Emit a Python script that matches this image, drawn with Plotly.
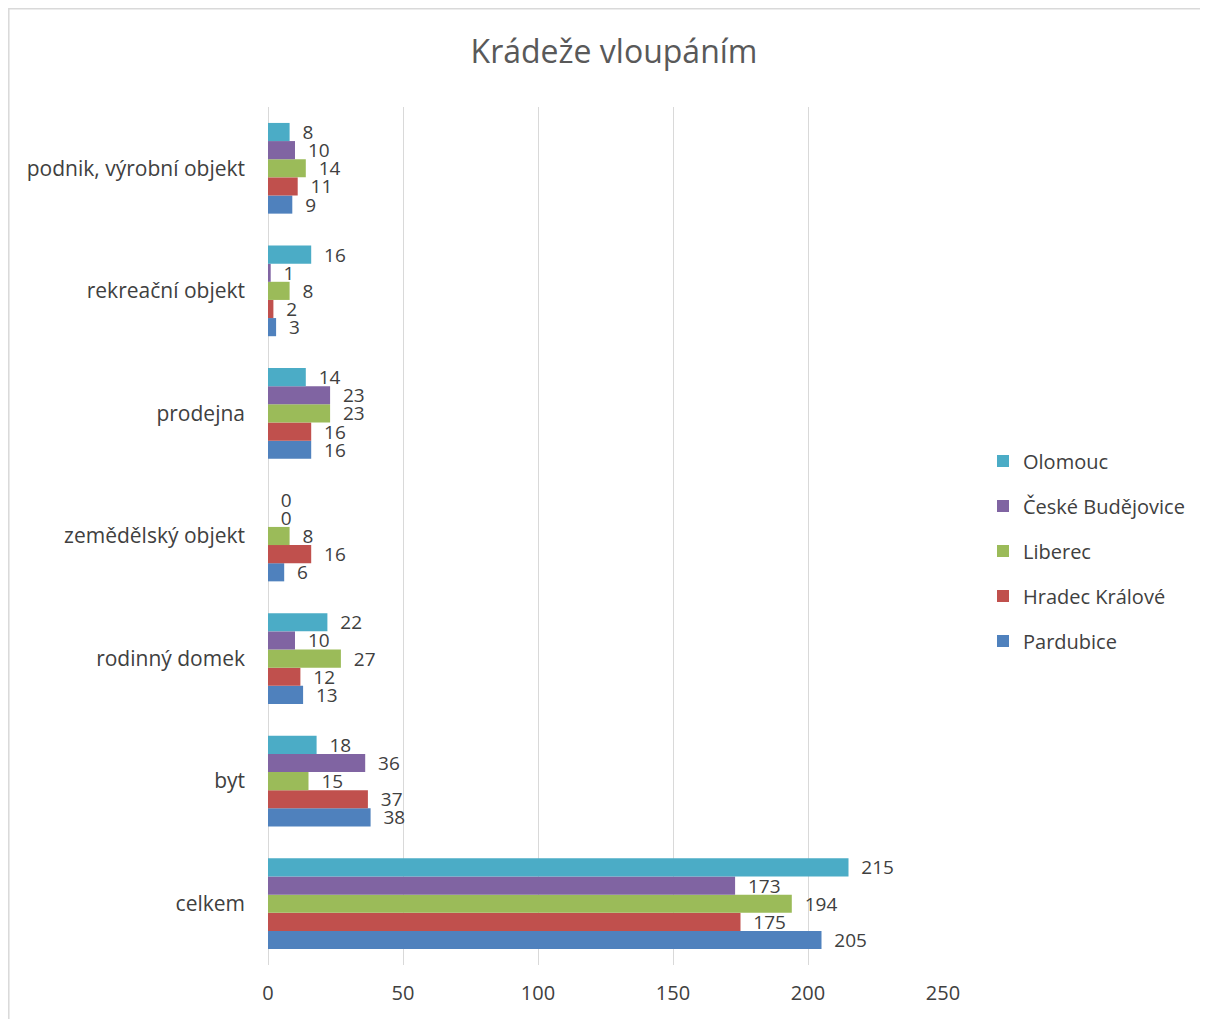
import plotly.graph_objects as go

categories = ["celkem", "byt", "rodinný domek", "zemědělský objekt", "prodejna",
              "rekreační objekt", "podnik, výrobní objekt"]
series_names = ["Pardubice", "Hradec Králové", "Liberec", "České Budějovice", "Olomouc"]
pardubice = [205, 38, 13, 6, 16, 3, 9]
hradec = [175, 37, 12, 16, 16, 2, 11]
liberec = [194, 15, 27, 8, 23, 8, 14]
budejovice = [173, 36, 10, 0, 23, 1, 10]
olomouc = [215, 18, 22, 0, 14, 16, 8]
x_ticks = [0, 50, 100, 150, 200, 250]

values = [pardubice, hradec, liberec, budejovice, olomouc]
colors = ["#4f81bd", "#c0504d", "#9bbb59", "#8064a2", "#4bacc6"]

FONT = "Open Sans"
TXT = "#404040"

# page body has an 8px margin; work in figure coordinates = reference pixels - 8
O = 8
W, H = 1208 - O, 1019 - O
L = 268 - O
R = W - (943 - O)
T = 107 - O
B = H - (965 - O)
pw, ph = W - L - R, H - T - B

def px(xp):
    return (xp - O - L) / pw

def py(yp):
    return (H - B - (yp - O)) / ph

fig = go.Figure()
n = len(series_names)
for i, (name, vals, col) in enumerate(zip(series_names, values, colors)):
    fig.add_trace(go.Bar(
        y=categories, x=vals, name=name, orientation="h",
        marker=dict(color=col, line=dict(width=0)),
        text=["\u00a0\u00a0" + str(v) for v in vals], textposition="outside",
        constraintext="none",
        textfont=dict(family=FONT, size=19, color=TXT),
        cliponaxis=False, legendgroup=name, legendrank=n - i,
    ))

fig.update_layout(
    width=W, height=H,
    margin=dict(l=L, r=R, t=T, b=B, autoexpand=False),
    paper_bgcolor="white", plot_bgcolor="white",
    barmode="group", bargap=0.26, bargroupgap=0,
    uniformtext=dict(mode=False),
    title=dict(text="Krádeže vloupáním", x=(614 - O) / W, xref="container", xanchor="center",
               y=1 - (52 - O) / H, yref="container", yanchor="middle",
               font=dict(family=FONT, size=32, color="#595959")),
    font=dict(family=FONT, color=TXT),
    showlegend=True,
    legend=dict(x=px(983), xanchor="left", y=py(551), yanchor="middle",
                traceorder="grouped", tracegroupgap=16,
                font=dict(family=FONT, size=20, color=TXT),
                itemwidth=30, bgcolor="rgba(0,0,0,0)"),
    xaxis=dict(range=[0, 250], tickvals=x_ticks, showgrid=True, gridcolor="#d9d9d9",
               gridwidth=1.3, zeroline=True, zerolinecolor="#d9d9d9", zerolinewidth=1.3,
               showline=False, ticks="", ticklabelstandoff=14,
               tickfont=dict(family=FONT, size=20, color=TXT)),
    yaxis=dict(categoryorder="array", categoryarray=categories, showgrid=False,
               zeroline=False, showline=False, ticks="", ticklabelstandoff=22,
               tickfont=dict(family=FONT, size=21, color=TXT)),
    shapes=[dict(type="rect", xref="paper", yref="paper",
                 x0=px(8.8), x1=px(1400), y0=py(1200), y1=py(8.8),
                 line=dict(color="#d9d9d9", width=1.5), fillcolor="rgba(0,0,0,0)",
                 layer="below")],
)

fig.write_html("out.html")
